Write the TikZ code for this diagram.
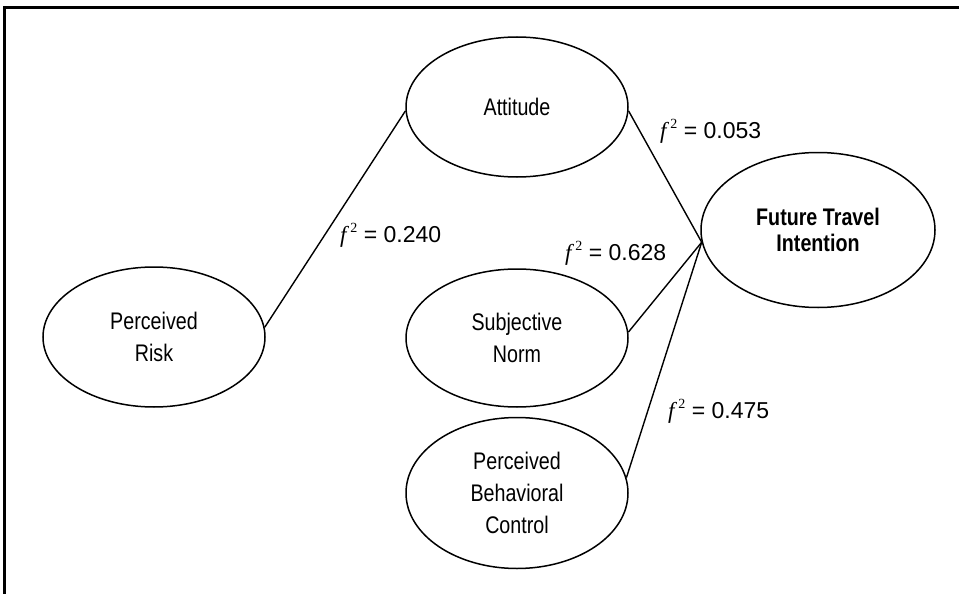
\documentclass[tikz,border=0pt]{standalone}
\usepackage{fontspec}
\setmainfont[FakeStretch=0.82]{Liberation Sans}
\newfontfamily\serifit{Liberation Serif}
\newfontfamily\labelfont{Liberation Sans}
\usepackage{tikz}
\usetikzlibrary{shapes.geometric}

\newcommand{\fsq}{{\serifit\itshape f}\,\raisebox{0.42em}{\serifit\fontsize{14}{14}\selectfont 2}\ }

\begin{document}
\begin{tikzpicture}[x=1pt,y=-1pt,
        construct/.style={ellipse, draw, line width=1.5pt, inner sep=0pt,
            align=center, font=\fontsize{24}{32}\selectfont},
        effect/.style={anchor=west, inner sep=0pt, font=\labelfont\fontsize{23}{23}\selectfont},
        path/.style={line width=1.4pt}]
        \useasboundingbox (0,0) rectangle (959,594);
        % frame
        \draw[line width=3pt] (4,594) -- (4,8) -- (959,8);

        % constructs
        \node[construct, minimum width=222pt, minimum height=140pt] (att) at (517,107) {Attitude};
        \node[construct, minimum width=222pt, minimum height=140pt] (pr) at (154,337) {Perceived\\Risk};
        \node[construct, minimum width=222pt, minimum height=138pt] (sn) at (517,338) {Subjective\\Norm};
        \node[construct, minimum width=222pt, minimum height=151pt] (pbc) at (517,493) {Perceived\\Behavioral\\Control};
        \node[construct, minimum width=234pt, minimum height=155pt, font=\fontsize{24}{26}\selectfont\bfseries] (fti) at (818,230) {Future Travel\\Intention};

        % paths
        \draw[path] (pr.5) -- (att.182);
        \draw[path] (att.-2) -- (fti.186);
        \draw[path] (sn.3) -- (fti.186);
        \draw[path] (pbc.8) -- (fti.186);

        % effect sizes
        \node[effect] (e1) at (340,235) {\fsq= 0.240};
        \node[effect] (e2) at (660,131) {\fsq= 0.053};
        \node[effect] (e3) at (565,253) {\fsq= 0.628};
        \node[effect] (e4) at (668,411) {\fsq= 0.475};
    \end{tikzpicture}
\end{document}
